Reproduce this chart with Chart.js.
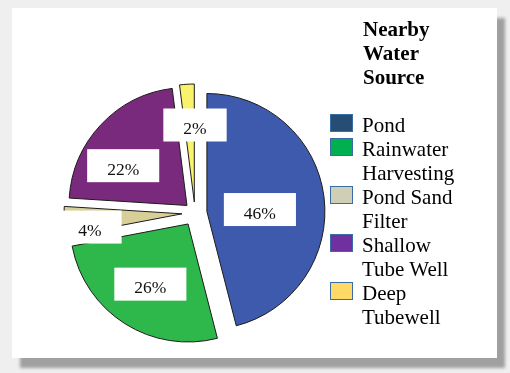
<!DOCTYPE html>
<html>
<head>
<meta charset="utf-8">
<script src="https://cdn.jsdelivr.net/npm/chart.js@4.4.1/dist/chart.umd.min.js"></script>
<style>
    body { margin: 0; background: #efefef; }
    #wrap { position: relative; width: 510px; height: 373px; overflow: hidden; }
    #card { position: absolute; left: 12px; top: 8px; width: 485px; height: 350px; background: #fff;
            box-shadow: 8px 10px 3px rgba(0, 0, 0, 0.33); }
    #pie { position: absolute; left: 0; top: 0; }
    #legend { position: absolute; left: 330px; top: 17px; font: 21px/24px "Liberation Serif", "Times New Roman", serif; color: #000; }
    #legend .ttl { margin-left: 33px; font-weight: bold; margin-bottom: 24px; }
    #legend .item { display: flex; align-items: flex-start; }
    #legend .sw { flex: none; width: 21px; height: 16px; border: 1.5px solid #3a6ca6; margin: 1px 9px 0 0; }
    #legend .tx { width: 106px; }
</style>
</head>
<body>
<div id="wrap">
    <div id="card"></div>
    <canvas id="pie" width="510" height="373"></canvas>
    <div id="legend"></div>
</div>
<script>
const legendTitle = ['Nearby', 'Water', 'Source'];
const categories = ['Pond', 'Rainwater Harvesting', 'Pond Sand Filter', 'Shallow Tube Well', 'Deep Tubewell'];
const shares = [46, 26, 4, 22, 2];
const sliceColors = ['#3e5aad', '#2eb84b', '#d8cf98', '#7a2a7c', '#f9f26c'];
const legendColors = ['#264d73', '#00b050', '#cfcfb6', '#7030a0', '#ffd966'];

// how far each slice is pulled out, and where its label box sits (fraction along arc, px from centre)
const gaps = [12, 13, 13, 11, 11];
const labelSpots = [[0.525, 65], [0.497, 84], [0.22, 106], [0.376, 86], [1.0, 88]];

// html legend
const legend = document.getElementById('legend');
legend.innerHTML = `<div class="ttl">${legendTitle.join('<br>')}</div>` +
    categories.map((c, i) =>
        `<div class="item"><span class="sw" style="background:${legendColors[i]}"></span><span class="tx">${c}</span></div>`
    ).join('');

// pull each slice out along its middle angle
const explode = {
    id: 'explode',
    beforeDatasetsDraw(chart) {
        chart.getDatasetMeta(0).data.forEach((arc, i) => {
            if (arc._moved) return;
            const draw = arc.draw;
            arc.draw = function (ctx, area) {
                const mid = (this.startAngle + this.endAngle) / 2;
                ctx.save();
                ctx.translate(Math.cos(mid) * gaps[i], Math.sin(mid) * gaps[i]);
                draw.call(this, ctx, area);
                ctx.restore();
            };
            arc._moved = true;
        });
    }
};

// white boxes with the percentages
const pctLabels = {
    id: 'pctLabels',
    afterDatasetsDraw(chart) {
        const ctx = chart.ctx;
        const arcs = chart.getDatasetMeta(0).data;
        ctx.save();
        ctx.font = '17.5px "Liberation Serif", "Times New Roman", serif';
        ctx.textAlign = 'center';
        arcs.forEach((arc, i) => {
            const [f, r] = labelSpots[i];
            const a = arc.startAngle + f * (arc.endAngle - arc.startAngle);
            const x = arc.x + Math.cos(a) * r;
            const y = arc.y + Math.sin(a) * r;
            const txt = shares[i] + '%';
            const w = ctx.measureText(txt).width + 40;
            ctx.fillStyle = '#fff';
            ctx.fillRect(x - w / 2, y - 16.5, w, 33);
            ctx.fillStyle = '#111';
            ctx.fillText(txt, x, y + 9);
        });
        ctx.restore();
    }
};

new Chart(document.getElementById('pie'), {
    type: 'pie',
    data: {
        labels: categories,
        datasets: [{
            data: shares,
            backgroundColor: sliceColors,
            borderColor: '#1b1b1b',
            borderWidth: 1
        }]
    },
    options: {
        responsive: false,
        animation: false,
        radius: 118,
        layout: { padding: { left: 0, right: 120, top: 53, bottom: 0 } },
        plugins: {
            legend: { display: false },
            tooltip: { enabled: false }
        }
    },
    plugins: [explode, pctLabels]
});
</script>
</body>
</html>
